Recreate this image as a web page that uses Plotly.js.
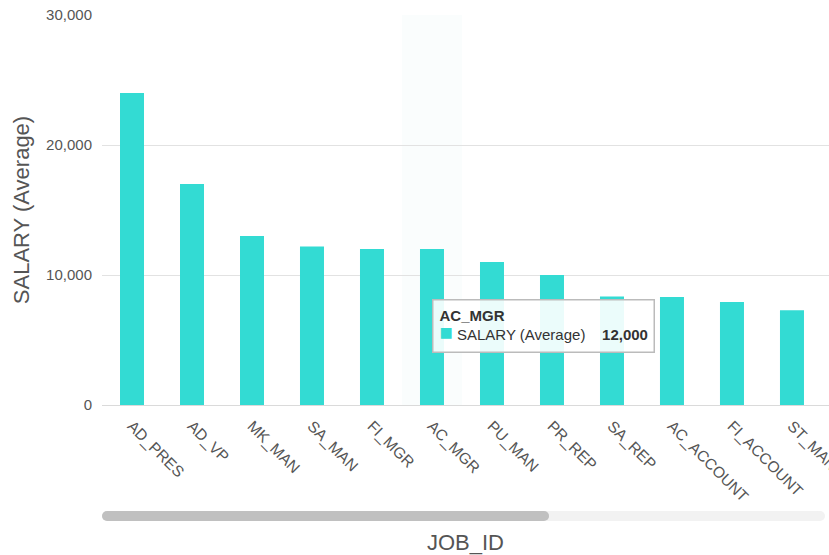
<!DOCTYPE html>
<html>
<head>
<meta charset="utf-8">
<script src="https://cdn.plot.ly/plotly-3.0.1.min.js"></script>
<style>html,body{margin:0;padding:0;background:#fff;}#chart{width:829px;height:555px;}</style>
</head>
<body>
<div id="chart"></div>
<script>
const categories = ["AD_PRES","AD_VP","MK_MAN","SA_MAN","FI_MGR","AC_MGR","PU_MAN","PR_REP","SA_REP","AC_ACCOUNT","FI_ACCOUNT","ST_MAN"];
const salaryAvg = [24000, 17000, 13000, 12200, 12008, 12000, 11000, 10000, 8350, 8300, 7920, 7280];
const seriesName = "SALARY (Average)";
const hoverCategory = "AC_MGR";
const yTicks = [0, 10000, 20000, 30000];

const barColor = "#33dbd3";
const hi = categories.indexOf(hoverCategory);
const fmt = v => v.toLocaleString("en-US");

const trace = {
  type: "bar",
  x: categories,
  y: salaryAvg,
  name: seriesName,
  marker: {color: barColor},
  width: 0.4,
  hoverinfo: "none"
};

// scrollbar geometry (decoration, in paper units)
const sbY0 = -0.2974, sbY1 = -0.2718, sbYc = (sbY0 + sbY1) / 2, r = 5;
const trackEnd = 0.9945, thumbEnd = 0.6149;
function pill(x0, x1, color) {
  const pw = 727;
  return [
    {type: "rect", xref: "paper", yref: "paper", x0: x0 + r / pw, x1: x1 - r / pw, y0: sbY0, y1: sbY1,
     fillcolor: color, line: {width: 0}},
    {type: "circle", xref: "paper", yref: "paper", xsizemode: "pixel", ysizemode: "pixel",
     xanchor: x0 + r / pw, yanchor: sbYc, x0: -r, x1: r, y0: -r, y1: r, fillcolor: color, line: {width: 0}},
    {type: "circle", xref: "paper", yref: "paper", xsizemode: "pixel", ysizemode: "pixel",
     xanchor: x1 - r / pw, yanchor: sbYc, x0: -r, x1: r, y0: -r, y1: r, fillcolor: color, line: {width: 0}}
  ];
}

const layout = {
  width: 829, height: 555,
  margin: {l: 102, r: 0, t: 15, b: 150},
  paper_bgcolor: "#fff", plot_bgcolor: "#fff",
  font: {family: "Liberation Sans, Arial, sans-serif", color: "#555"},
  showlegend: false,
  xaxis: {
    type: "category",
    range: [-0.5, 11.617],
    tickangle: 45,
    tickfont: {size: 15.5, color: "#555"},
    ticks: "",
    ticklabelstandoff: 8,
    showgrid: false,
    showline: false,
    zeroline: false,
    title: {text: "JOB_ID", font: {size: 22, color: "#555"}, standoff: 37},
    automargin: false
  },
  yaxis: {
    range: [0, 30000],
    tickvals: yTicks,
    ticktext: yTicks.map(fmt),
    tickfont: {size: 15, color: "#555"},
    ticklabelstandoff: 9,
    showgrid: true,
    gridcolor: "#e2e2e2",
    gridwidth: 1,
    zeroline: true,
    zerolinecolor: "#dadada",
    showline: false,
    title: {text: seriesName, font: {size: 22, color: "#555"}, standoff: 10},
    automargin: false
  },
  shapes: [
    {type: "rect", layer: "below", xref: "x", yref: "paper", x0: hi - 0.5, x1: hi + 0.5, y0: 0, y1: 1,
     fillcolor: "#fafdfd", line: {width: 0}}
  ].concat(pill(0, trackEnd, "#f2f2f2")).concat(pill(0, thumbEnd, "#c0c0c0")),
  annotations: [
    {
      xref: "x", yref: "y", x: hi, y: salaryAvg[hi] - 3850,
      xanchor: "left", yanchor: "top",
      showarrow: false, align: "left",
      text: "<b>" + hoverCategory + "</b><br><span style='color:" + barColor + ";font-size:22px'>■</span>&nbsp;" +
            seriesName + "&nbsp;&nbsp;&nbsp;&nbsp;<b>" + fmt(salaryAvg[hi]) + "</b>",
      font: {size: 15, color: "#333"},
      bgcolor: "rgba(255,255,255,0.9)",
      bordercolor: "#bbbbbb", borderwidth: 1.5, borderpad: 6
    }
  ]
};

Plotly.newPlot("chart", [trace], layout, {displayModeBar: false, staticPlot: true});
</script>
</body>
</html>
